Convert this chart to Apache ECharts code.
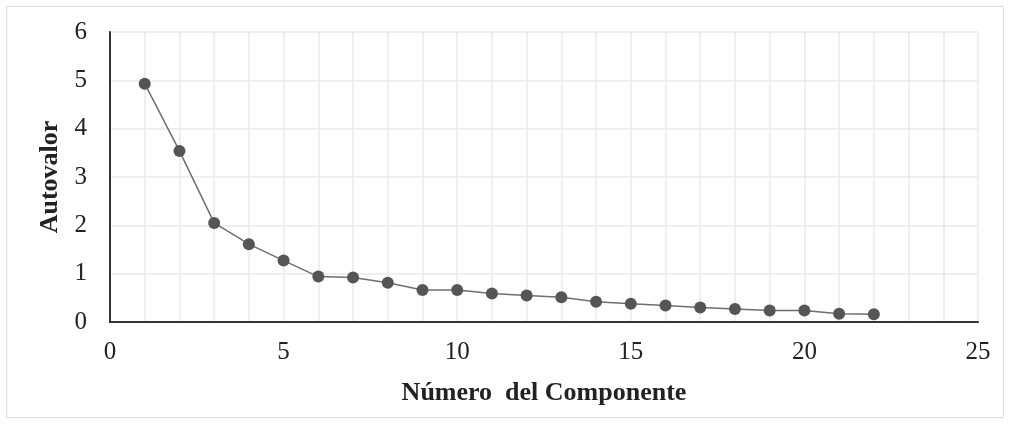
<!DOCTYPE html>
<html><head><meta charset="utf-8">
<script src="https://cdn.jsdelivr.net/npm/echarts@6/dist/echarts.min.js"></script>
<style>html,body{margin:0;padding:0;background:#fff}#c{width:1010px;height:424px}</style>
</head><body><div id="c"></div>
<script>
const components = [1,2,3,4,5,6,7,8,9,10,11,12,13,14,15,16,17,18,19,20,21,22];
const eigenvalues = [4.93,3.54,2.05,1.61,1.27,0.94,0.92,0.81,0.66,0.66,0.59,0.55,0.51,0.42,0.38,0.34,0.30,0.27,0.24,0.24,0.17,0.16];
const xTitle = 'Número  del Componente';
const yTitle = 'Autovalor';

const chart = echarts.init(document.getElementById('c'));
const font = 'Liberation Serif';
chart.setOption({
  animation: false,
  backgroundColor: '#fff',
  graphic: [{type:'rect', shape:{x:6.5,y:6.5,width:997,height:411}, style:{fill:'none', stroke:'#dadde3', lineWidth:1}, silent:true, z:-1}],
  grid: {left:110, right:32, top:32, bottom:102},
  xAxis: {
    type:'value', min:0, max:25, interval:1,
    axisLine:{lineStyle:{color:'#333', width:2}},
    axisTick:{show:false},
    splitLine:{show:true, lineStyle:{color:'#e8eaf0', width:1.5}},
    axisLabel:{fontFamily:font, fontSize:25, color:'#222', margin:18,
      formatter: v => (v % 5 === 0 ? String(v) : '')},
    name: xTitle, nameLocation:'middle', nameGap:58,
    nameTextStyle:{fontFamily:font, fontSize:26, fontWeight:'bold', color:'#222'}
  },
  yAxis: {
    type:'value', min:0, max:6, interval:1,
    axisLine:{show:true, lineStyle:{color:'#333', width:2}},
    axisTick:{show:false},
    splitLine:{show:true, lineStyle:{color:'#e8eaf0', width:1.5}},
    axisLabel:{fontFamily:font, fontSize:25, color:'#222', margin:23},
    name: yTitle, nameLocation:'middle', nameGap:46, nameRotate:90,
    nameTextStyle:{fontFamily:font, fontSize:26, fontWeight:'bold', color:'#222'}
  },
  series: [{
    type:'line',
    data: components.map((c,i)=>[c, eigenvalues[i]]),
    symbol:'circle', symbolSize:12,
    itemStyle:{color:'#555555'},
    lineStyle:{color:'#6e6e6e', width:1.5}
  }]
});
</script></body></html>
